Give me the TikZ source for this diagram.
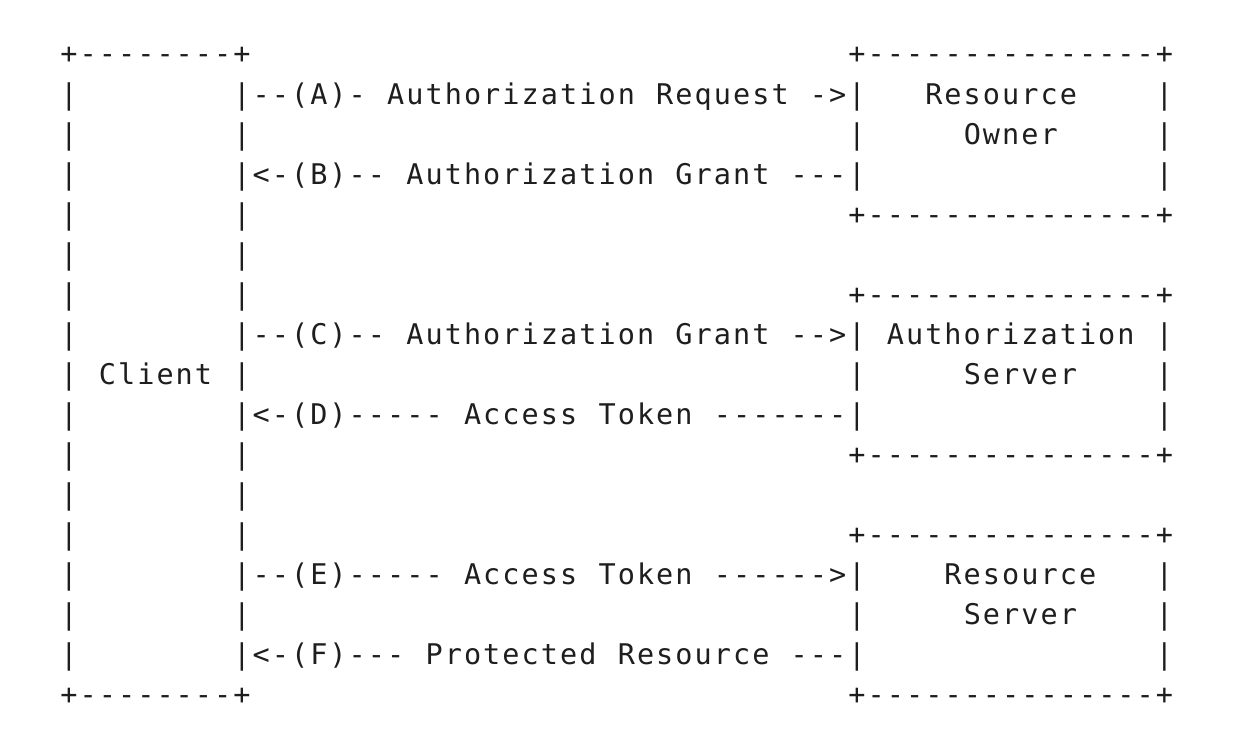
\documentclass[tikz,border=0pt]{standalone}
\usepackage{fontspec}
\newfontfamily\asciifont{DejaVu Sans Mono}
\definecolor{ink}{HTML}{1E1E1E}
\def\cw{19.22pt}
\def\gridline#1{\gridloop#1\relax}
\def\gridloop#1{\ifx#1\relax\else\makebox[\cw][c]{#1}\expandafter\gridloop\fi}
\tikzset{
  asciirow/.style={anchor=base west, inner sep=0pt, outer sep=0pt, text=ink,
    font={\asciifont\fontsize{28.5pt}{34pt}\selectfont}}
}
\begin{document}
\begin{tikzpicture}[x=1pt,y=-1pt]
\fill[white] (0,0) rectangle (1258,748);
\useasboundingbox (0,0) rectangle (1258,748);
\def\lx{59.4}
\node[asciirow] (r0)  at (\lx, 63.9)  {\gridline{+--------+~~~~~~~~~~~~~~~~~~~~~~~~~~~~~~~+---------------+}};
\node[asciirow] (r1)  at (\lx, 104.0) {\gridline{|~~~~~~~~|--(A)-~Authorization~Request~->|~~~Resource~~~~|}};
\node[asciirow] (r2)  at (\lx, 144.0) {\gridline{|~~~~~~~~|~~~~~~~~~~~~~~~~~~~~~~~~~~~~~~~|~~~~~Owner~~~~~|}};
\node[asciirow] (r3)  at (\lx, 184.1) {\gridline{|~~~~~~~~|<-(B)--~Authorization~Grant~---|~~~~~~~~~~~~~~~|}};
\node[asciirow] (r4)  at (\lx, 224.1) {\gridline{|~~~~~~~~|~~~~~~~~~~~~~~~~~~~~~~~~~~~~~~~+---------------+}};
\node[asciirow] (r5)  at (\lx, 264.2) {\gridline{|~~~~~~~~|}};
\node[asciirow] (r6)  at (\lx, 304.3) {\gridline{|~~~~~~~~|~~~~~~~~~~~~~~~~~~~~~~~~~~~~~~~+---------------+}};
\node[asciirow] (r7)  at (\lx, 344.3) {\gridline{|~~~~~~~~|--(C)--~Authorization~Grant~-->|~Authorization~|}};
\node[asciirow] (r8)  at (\lx, 384.4) {\gridline{|~Client~|~~~~~~~~~~~~~~~~~~~~~~~~~~~~~~~|~~~~~Server~~~~|}};
\node[asciirow] (r9)  at (\lx, 424.4) {\gridline{|~~~~~~~~|<-(D)-----~Access~Token~-------|~~~~~~~~~~~~~~~|}};
\node[asciirow] (r10) at (\lx, 464.5) {\gridline{|~~~~~~~~|~~~~~~~~~~~~~~~~~~~~~~~~~~~~~~~+---------------+}};
\node[asciirow] (r11) at (\lx, 504.5) {\gridline{|~~~~~~~~|}};
\node[asciirow] (r12) at (\lx, 544.6) {\gridline{|~~~~~~~~|~~~~~~~~~~~~~~~~~~~~~~~~~~~~~~~+---------------+}};
\node[asciirow] (r13) at (\lx, 584.7) {\gridline{|~~~~~~~~|--(E)-----~Access~Token~------>|~~~~Resource~~~|}};
\node[asciirow] (r14) at (\lx, 624.7) {\gridline{|~~~~~~~~|~~~~~~~~~~~~~~~~~~~~~~~~~~~~~~~|~~~~~Server~~~~|}};
\node[asciirow] (r15) at (\lx, 664.8) {\gridline{|~~~~~~~~|<-(F)---~Protected~Resource~---|~~~~~~~~~~~~~~~|}};
\node[asciirow] (r16) at (\lx, 704.8) {\gridline{+--------+~~~~~~~~~~~~~~~~~~~~~~~~~~~~~~~+---------------+}};
\end{tikzpicture}
\end{document}
